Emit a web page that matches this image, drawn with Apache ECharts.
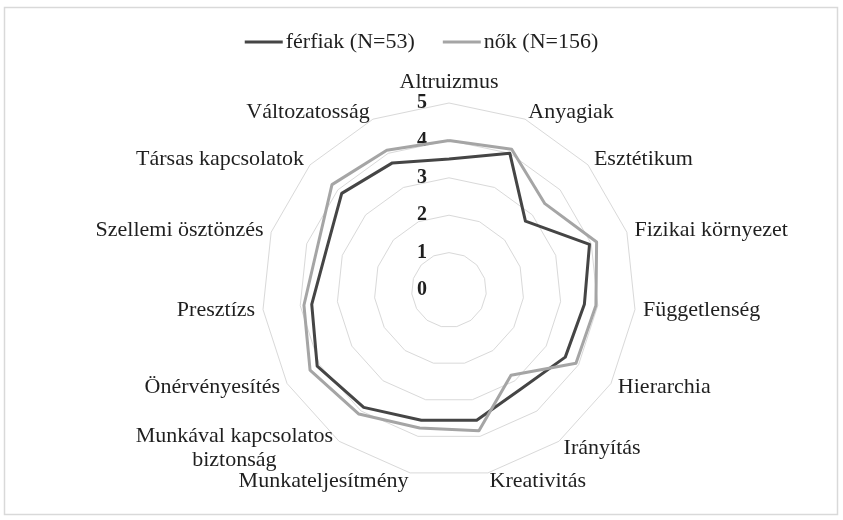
<!DOCTYPE html>
<html>
<head>
<meta charset="utf-8">
<title>Munkaérték-profil nemenként</title>
<script src="https://cdn.jsdelivr.net/npm/echarts@6/dist/echarts.min.js"></script>
<style>
  html, body { margin: 0; padding: 0; background: #ffffff; }
  #chart { width: 843px; height: 520px; }
</style>
</head>
<body>
<div id="chart"></div>
<script>
// Work values, listed clockwise starting from the top axis
const categories = [
  'Altruizmus',
  'Anyagiak',
  'Esztétikum',
  'Fizikai környezet',
  'Függetlenség',
  'Hierarchia',
  'Irányítás',
  'Kreativitás',
  'Munkateljesítmény',
  'Munkával kapcsolatos biztonság',
  'Önérvényesítés',
  'Presztízs',
  'Szellemi ösztönzés',
  'Társas kapcsolatok',
  'Változatosság'
];

const seriesNames = ['férfiak (N=53)', 'nők (N=156)'];

// Mean scores (0–5 scale)
const ferfiak = [3.50, 4.00, 2.75, 3.95, 3.64, 3.59, 3.27, 3.56, 3.56, 3.88, 4.07, 3.69, 3.45, 3.86, 3.72];
const nok     = [4.00, 4.12, 3.45, 4.15, 3.95, 3.92, 2.82, 3.85, 3.77, 4.10, 4.29, 3.90, 3.70, 4.21, 4.09];

const scaleMin = 0;
const scaleMax = 5;
const scaleSteps = 5;

// ECharts lays radar axes out counter-clockwise; reorder so the
// sequence reads clockwise from the top.
const order = [0].concat(categories.map((_, i) => i).slice(1).reverse());
const pick = arr => order.map(i => arr[i]);

const indicators = order.map((i, k) => {
  const ind = { name: categories[i], min: scaleMin, max: scaleMax };
  if (k === 0) {
    // scale numbers only along the top axis
    ind.axisLabel = {
      show: true,
      fontFamily: 'Liberation Serif',
      fontSize: 20,
      fontWeight: 'bold',
      color: '#1f1f1f',
      margin: 22
    };
  }
  return ind;
});

const chart = echarts.init(document.getElementById('chart'), null, { renderer: 'canvas' });

chart.setOption({
  backgroundColor: '#ffffff',
  animation: false,
  graphic: [{
    type: 'rect',
    shape: { x: 4.5, y: 7.5, width: 833, height: 507 },
    style: { fill: 'none', stroke: '#d9d9d9', lineWidth: 1.5 },
    silent: true
  }],
  legend: {
    data: seriesNames,
    top: 26,
    left: 'center',
    icon: 'rect',
    itemWidth: 38,
    itemHeight: 3,
    itemGap: 28,
    textStyle: {
      fontFamily: 'Liberation Serif',
      fontSize: 22,
      color: '#1f1f1f',
      padding: [0, 0, 0, -2]
    }
  },
  radar: {
    center: [449, 290],
    radius: 187,
    startAngle: 90,
    shape: 'polygon',
    splitNumber: scaleSteps,
    indicator: indicators,
    axisName: {
      fontFamily: 'Liberation Serif',
      fontSize: 22,
      color: '#1f1f1f',
      formatter: function (name) {
        if (name === 'Munkával kapcsolatos biztonság') {
          return '{c|Munkával kapcsolatos}\n{c|biztonság}';
        }
        return name;
      },
      rich: {
        c: {
          fontFamily: 'Liberation Serif',
          fontSize: 22,
          color: '#1f1f1f',
          width: 200,
          align: 'center',
          lineHeight: 24
        }
      }
    },
    nameGap: 8,
    axisLine: { show: false },
    axisTick: { show: false },
    axisLabel: { show: false },
    splitLine: { lineStyle: { color: '#d9d9d9', width: 1 } },
    splitArea: { show: false }
  },
  series: [{
    type: 'radar',
    symbol: 'none',
    data: [
      {
        name: seriesNames[0],
        value: pick(ferfiak),
        lineStyle: { color: '#454545', width: 3 },
        itemStyle: { color: '#454545' }
      },
      {
        name: seriesNames[1],
        value: pick(nok),
        lineStyle: { color: '#a5a5a5', width: 3 },
        itemStyle: { color: '#a5a5a5' }
      }
    ]
  }]
});
</script>
</body>
</html>
